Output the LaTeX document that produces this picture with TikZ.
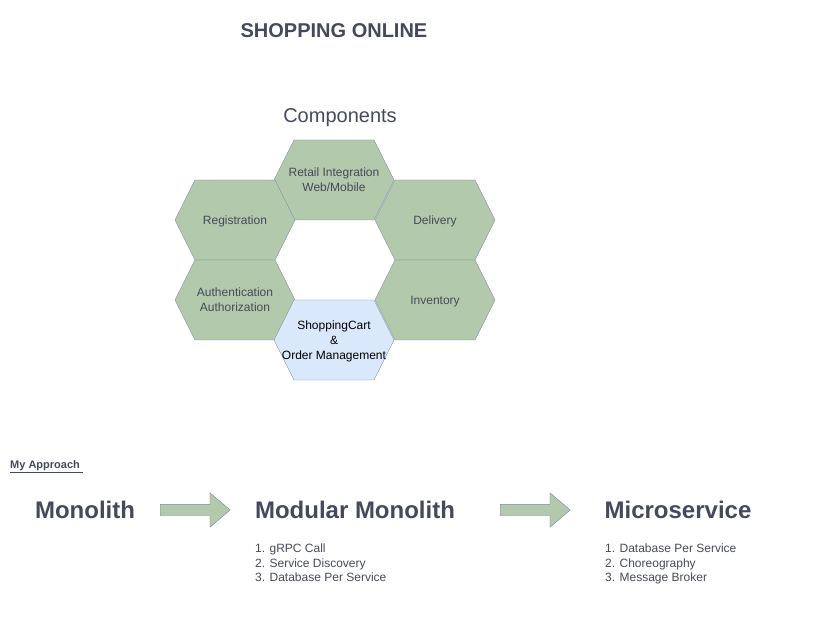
\documentclass[tikz,border=0pt]{standalone}
\usepackage{fontspec}
\setmainfont{Liberation Sans}
\usetikzlibrary{shapes.symbols,shapes.arrows}
\definecolor{sage}{HTML}{B2C9AB}
\definecolor{slate}{HTML}{788AA3}
\definecolor{inkgray}{HTML}{46495D}
\definecolor{paleblue}{HTML}{DAE8FC}
% zero-width label so the hexagon keeps its size
\newcommand\hexlabel[1]{\makebox[0pt]{\raisebox{-1.5pt}[\height][\depth]{\begin{tabular}{@{}c@{}}#1\end{tabular}}}}
\tikzset{
	hexcell/.style={shape=signal, signal to=east and west, signal pointer angle=126.87,
		minimum width=120pt, minimum height=80pt, inner sep=0pt, draw=slate, fill=sage,
		text=inkgray, font=\fontsize{12}{15}\selectfont},
	stagearrow/.style={shape=single arrow, draw=slate, fill=sage, minimum height=70pt,
		single arrow head extend=11.5pt, single arrow tip angle=80.8, single arrow head indent=0pt,
		inner xsep=0pt, inner ysep=5.5pt, anchor=tail},
	stagetitle/.style={text=inkgray, font=\fontsize{24}{28}\selectfont\bfseries},
	steplist/.style={anchor=north west, align=left, text=inkgray, inner sep=0pt, font=\fontsize{12}{14.5}\selectfont}
}
\begin{document}
\begin{tikzpicture}[x=1pt, y=-1pt]
			%%%%% START %%%%%
			\useasboundingbox (0, 0) rectangle (831, 631);
			
			\node[text=inkgray, font=\fontsize{20}{24}\selectfont\bfseries] (title) at (334, 31) {SHOPPING ONLINE};
			\node[text=inkgray, font=\fontsize{20}{24}\selectfont] (components) at (340, 118) {Components};
			
			\node[hexcell] (retail) at (334, 180) {\hexlabel{Retail Integration\\Web/Mobile}};
			\node[hexcell] (registration) at (235, 220) {\hexlabel{Registration}};
			\node[hexcell] (delivery) at (435, 220) {\hexlabel{Delivery}};
			\node[hexcell] (auth) at (235, 300) {\hexlabel{Authentication\\Authorization}};
			\node[hexcell] (inventory) at (435, 300) {\hexlabel{Inventory}};
			\node[hexcell, fill=paleblue, text=black] (cart) at (334, 340) {\hexlabel{ShoppingCart\\\&\\Order Management}};
			
			\node[anchor=west, text=inkgray, inner sep=0pt, font=\fontsize{11}{13}\selectfont\bfseries] (approach) at (10, 467) {\underline{My Approach\ }};
			
			\node[stagetitle] (monolith) at (85, 510) {Monolith};
			\node[stagearrow] (arrowa) at (160, 510) {};
			\node[stagetitle] (modular) at (355, 510) {Modular Monolith};
			\node[stagearrow] (arrowb) at (500, 510) {};
			\node[stagetitle] (micro) at (678, 510) {Microservice};
			
			\node[steplist] (modularlist) at (255, 544) {1. gRPC Call\\2. Service Discovery\\3. Database Per Service};
			\node[steplist] (microlist) at (605, 544) {1. Database Per Service\\2. Choreography\\3. Message Broker};
			%%%%% END %%%%%
		\end{tikzpicture}
\end{document}
